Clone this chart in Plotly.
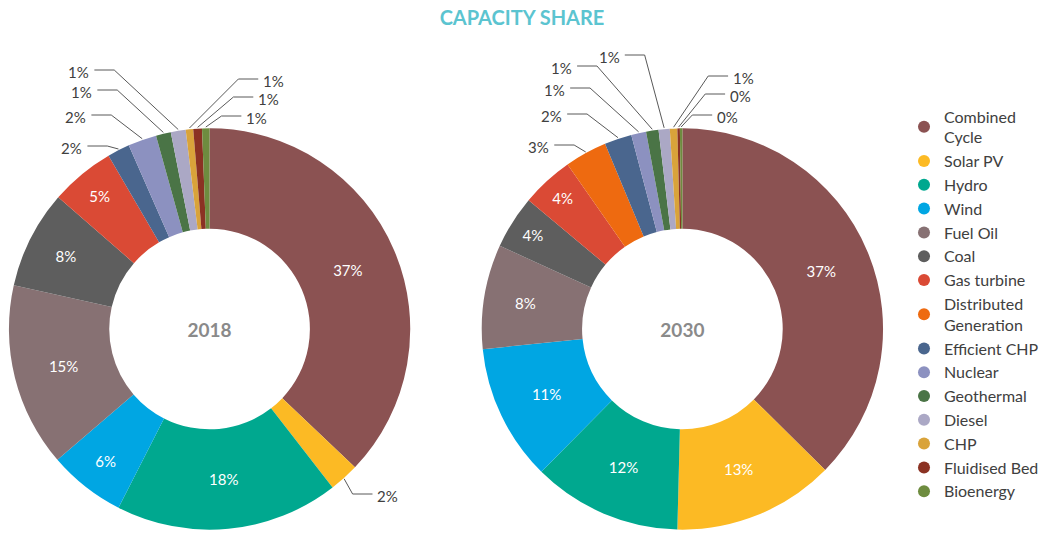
import math
import plotly.graph_objects as go

categories = ["Combined<br>Cycle", "Solar PV", "Hydro", "Wind", "Fuel Oil", "Coal", "Gas turbine",
              "Distributed<br>Generation", "Efficient CHP", "Nuclear", "Geothermal", "Diesel", "CHP",
              "Fluidised Bed", "Bioenergy"]
colors = ["#8B5252", "#FCBA24", "#00A88F", "#00A6E3", "#877173", "#5E5E5E", "#DA4A35",
          "#EE6A10", "#4A668E", "#8C91C0", "#4A7446", "#ABA8C5", "#D9A33A", "#8B3223", "#6E8C3F"]

values_2018 = [37.1, 2.4, 18.0, 6.2, 14.8, 7.9, 5.2, 0.0, 1.8, 2.3, 1.2, 1.2, 0.6, 0.7, 0.6]
values_2030 = [37.4, 13.0, 12.0, 11.0, 8.4, 4.3, 4.2, 3.4, 2.2, 1.2, 1.0, 0.9, 0.6, 0.2, 0.2]
years = ["2018", "2030"]

# --- layout / style settings (pixels) ---
FONT = "Lato, 'Open Sans', sans-serif"
W, H = 1044, 535
CENTERS = [(211, 329), (687, 329)]
R = 202
HOLE = 0.5
LINE_COLOR = "#595959"
TEXT_COLOR = "#404040"
# outside-label elbow points relative to pie centre: category index -> (dx, dy, side)
CALLOUTS = [
    {1: (144, 165, "r"), 8: (-103, -183, "l"), 9: (-99, -214, "l"), 10: (-93, -239, "l"),
     11: (-96, -259, "l"), 12: (29, -250, "r"), 13: (24, -232, "r"), 14: (12, -213, "r")},
    {7: (-109, -184, "l"), 8: (-96, -215, "l"), 9: (-93, -241, "l"), 10: (-86, -263, "l"),
     11: (-38, -274, "l"), 12: (26, -253, "r"), 13: (23, -235, "r"), 14: (10, -214, "r")},
]
SEG = 20


def px(x):
    return x / W


def py(y):
    return 1 - y / H


fig = go.Figure()
shapes, annotations = [], []

for k, (year, vals) in enumerate(zip(years, [values_2018, values_2030])):
    cx, cy = CENTERS[k]
    callouts = CALLOUTS[k]
    idx = [i for i, v in enumerate(vals) if v > 0]
    labs = [categories[i] for i in idx]
    cols = [colors[i] for i in idx]
    vv = [vals[i] for i in idx]
    tpos = ["none" if i in callouts else "inside" for i in idx]
    fig.add_trace(go.Pie(
        labels=labs, values=vv, sort=False, direction="clockwise", rotation=0,
        hole=HOLE, marker=dict(colors=cols, line=dict(width=0)),
        texttemplate="%{percent:.0%}", textposition=tpos,
        insidetextorientation="horizontal",
        insidetextfont=dict(color="white", size=15, family=FONT),
        domain=dict(x=[px(cx - R), px(cx + R)], y=[py(cy + R), py(cy - R)]),
        showlegend=False,
        title=dict(text="<b>" + year + "</b>", position="middle center",
                   font=dict(size=19, color="#8A8A8A", family=FONT)),
        hoverinfo="label+percent",
    ))

    total = sum(vals)
    cum = 0.0
    for i, v in enumerate(vals):
        if i in callouts:
            mid = (cum + v / 2) / total * 2 * math.pi
            sx, sy = cx + R * math.sin(mid), cy - R * math.cos(mid)
            dx, dy, side = callouts[i]
            ex, ey = cx + dx, cy + dy
            hx = ex + SEG if side == "r" else ex - SEG
            shapes.append(dict(type="path", xref="paper", yref="paper",
                               path=f"M {px(sx)},{py(sy)} L {px(ex)},{py(ey)} L {px(hx)},{py(ey)}",
                               line=dict(color=LINE_COLOR, width=1)))
            tx = hx + 3 if side == "r" else hx - 3
            annotations.append(dict(
                text=f"{round(v / total * 100)}%", xref="paper", yref="paper",
                x=px(tx), y=py(ey + 2), xanchor="left" if side == "r" else "right",
                yanchor="middle", showarrow=False,
                font=dict(size=15, color=TEXT_COLOR, family=FONT)))
        cum += v

for c, col in zip(categories, colors):
    fig.add_trace(go.Scatter(x=[None], y=[None], mode="markers", name=c,
                             marker=dict(symbol="circle", size=14, color=col)))

fig.update_layout(
    width=W, height=H,
    margin=dict(l=0, r=0, t=0, b=0),
    paper_bgcolor="white", plot_bgcolor="white",
    title=dict(text="<b>CAPACITY SHARE</b>", x=0.5, xanchor="center", y=py(18), yanchor="middle",
               font=dict(size=20, color="#5BC4D0", family=FONT)),
    xaxis=dict(visible=False), yaxis=dict(visible=False),
    legend=dict(x=0.872, xanchor="left", y=py(304), yanchor="middle",
                font=dict(size=16, color=TEXT_COLOR, family=FONT),
                itemsizing="constant", bgcolor="rgba(0,0,0,0)"),
    shapes=shapes, annotations=annotations,
    font=dict(family=FONT),
)

fig.write_html("out.html", config={"displayModeBar": False},
               post_script="document.body.style.margin='0px';")
